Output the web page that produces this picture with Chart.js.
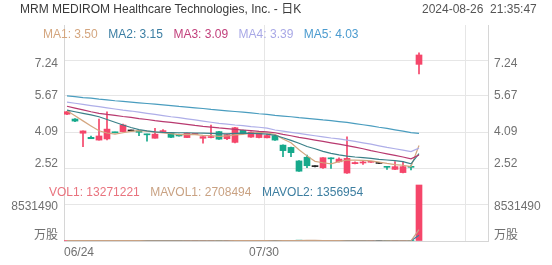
<!DOCTYPE html>
<html><head><meta charset="utf-8">
<script src="https://cdn.jsdelivr.net/npm/chart.js@4.4.1/dist/chart.umd.min.js"></script>
<style>
html,body{margin:0;padding:0;background:#fff;}
#wrap{position:relative;width:552px;height:265px;overflow:hidden;font-family:"Liberation Sans",Arial,"Noto Sans CJK SC",sans-serif;}
canvas{position:absolute;left:0;}
#c1{top:0;}
#c2{top:178px;}
.t{position:absolute;font-size:12px;line-height:12px;white-space:nowrap;}
.t span{margin-right:10.5px;}
</style></head><body>
<div id="wrap">
<canvas id="c1" width="552" height="178"></canvas>
<canvas id="c2" width="552" height="87"></canvas>
<div class="t" id="title" style="left:20px;top:3px;color:#3a3a3a"></div>
<div class="t" id="time" style="left:422px;top:3px;color:#555"></div>
<div class="t" id="maLegend" style="left:43px;top:28px"></div>
<div class="t" id="volLegend" style="left:49px;top:186px"></div>
</div>
<script>
const titleText = 'MRM MEDIROM Healthcare Technologies, Inc. - 日K';
const timeText = '2024-08-26\u00a0\u00a021:35:47';

const dates = ['06/24','06/25','06/26','06/27','06/28','07/01','07/02','07/03','07/05','07/08','07/09','07/10','07/11','07/12','07/15','07/16','07/17','07/18','07/19','07/22','07/23','07/24','07/25','07/26','07/29','07/30','07/31','08/01','08/02','08/05','08/06','08/07','08/08','08/09','08/12','08/13','08/14','08/15','08/16','08/19','08/20','08/21','08/22','08/23','08/26'];

const opens  = [4.87,4.66,4.04,3.86,3.74,3.79,4.08,4.11,4.14,4.14,4.00,3.82,4.11,4.05,3.99,3.85,3.99,3.82,3.85,4.11,3.80,3.64,4.17,3.87,3.85,3.84,3.93,3.52,3.42,2.83,2.99,2.58,2.53,2.96,2.79,2.30,2.71,2.74,2.77,2.72,2.57,2.46,2.32,2.57,7.05];
const closes = [4.98,4.57,4.14,3.80,3.92,4.22,4.06,4.40,4.14,4.08,3.97,4.00,4.15,3.86,3.92,4.04,4.01,3.89,3.89,3.78,3.98,4.28,4.05,4.09,4.03,3.94,3.74,3.28,3.19,2.38,2.62,2.58,2.97,2.92,2.91,2.94,2.76,2.77,2.80,2.72,2.55,2.58,2.58,2.55,7.46];
const highs  = [5.00,4.68,4.14,3.92,4.66,4.98,4.09,4.44,4.15,4.14,4.00,4.25,4.20,4.06,4.00,4.05,4.02,3.89,4.40,4.12,4.00,4.30,4.18,4.10,4.05,4.00,3.94,3.53,3.43,2.84,3.09,2.59,2.98,2.96,2.96,3.88,2.79,2.83,2.81,2.73,2.57,2.80,2.80,2.63,7.55];
const lows   = [4.85,4.55,3.45,3.80,3.74,3.75,4.05,4.10,4.13,3.93,3.69,3.82,4.10,3.85,3.91,3.85,3.98,3.60,3.84,3.77,3.76,3.62,4.04,3.86,3.84,3.83,3.73,3.01,3.01,2.37,2.53,2.57,2.50,2.50,2.77,2.28,2.70,2.68,2.76,2.71,2.46,2.45,2.30,2.44,6.63];

const ma1 = [5.02,4.80,4.58,4.36,4.15,4.05,4.00,4.06,4.12,4.15,4.13,4.09,4.05,4.02,3.98,3.99,3.98,3.95,3.94,3.90,3.92,3.97,3.99,4.04,4.08,4.05,3.99,3.79,3.62,3.32,3.05,2.81,2.75,2.70,2.80,2.87,2.86,2.85,2.83,2.78,2.72,2.67,2.64,2.58,3.50];
const ma2 = [5.05,4.98,4.91,4.84,4.76,4.64,4.52,4.40,4.29,4.20,4.14,4.10,4.08,4.07,4.06,4.06,4.05,4.04,4.03,4.02,4.01,4.03,4.04,4.03,4.02,4.00,3.95,3.84,3.73,3.60,3.46,3.36,3.25,3.16,3.09,3.04,3.00,2.97,2.94,2.90,2.87,2.84,2.80,2.70,3.15];
const ma3 = [5.22,5.14,5.06,4.98,4.91,4.86,4.82,4.77,4.73,4.68,4.64,4.59,4.55,4.51,4.47,4.43,4.38,4.34,4.31,4.27,4.24,4.21,4.18,4.15,4.12,4.10,4.06,3.99,3.93,3.86,3.80,3.74,3.68,3.62,3.56,3.50,3.43,3.36,3.28,3.21,3.14,3.07,3.00,2.92,3.09];
const ma4 = [5.40,5.35,5.30,5.25,5.20,5.15,5.10,5.05,5.01,4.96,4.91,4.86,4.81,4.76,4.72,4.67,4.62,4.57,4.52,4.47,4.44,4.40,4.37,4.33,4.30,4.26,4.18,4.13,4.08,4.03,3.98,3.93,3.88,3.83,3.79,3.74,3.68,3.62,3.56,3.49,3.42,3.36,3.30,3.24,3.39];
const ma5 = [5.67,5.64,5.60,5.57,5.53,5.50,5.46,5.43,5.40,5.37,5.34,5.31,5.28,5.25,5.21,5.18,5.15,5.12,5.08,5.05,5.02,4.99,4.96,4.93,4.89,4.86,4.82,4.79,4.76,4.72,4.69,4.66,4.62,4.59,4.55,4.51,4.46,4.41,4.36,4.30,4.25,4.19,4.13,4.07,4.03];

const vols = [98000,76000,142000,64000,118000,156000,42000,88000,31000,47000,69000,83000,44000,58000,36000,52000,29000,61000,73000,81000,49000,137000,57000,53000,41000,48000,66000,162000,118000,205000,127000,38000,104000,72000,59000,8000,4000,6000,3000,6000,52000,71000,98000,50000,13271221];
const mavol1 = [98000,87000,105000,95000,100000,111000,104000,94000,87000,73000,55000,64000,55000,60000,58000,55000,44000,47000,50000,59000,59000,80000,79000,75000,67000,67000,53000,74000,87000,120000,136000,130000,118000,109000,80000,56000,49000,30000,16000,5000,14000,28000,46000,55000,2708494];
const mavol2 = [98000,87000,105000,95000,100000,106000,95000,94000,87000,86000,83000,84000,73000,70000,66000,55000,53000,50000,54000,57000,57000,62000,62000,62000,63000,67000,67000,77000,81000,94000,101000,91000,96000,98000,94000,90000,83000,68000,56000,42000,35000,38000,45000,32000,1356954];

const priceTicks = [2.52, 4.09, 5.67, 7.24];
const volTicks = [0, 8531490];
const volTickLabels = ['万股', '8531490'];
const xTickValues = [-0.375, 24.625, 49.75];
const xTickLabels = [dates[0], dates[25], ''];

const maNames = ['MA1','MA2','MA3','MA4','MA5'];
const maSeries = [ma1, ma2, ma3, ma4, ma5];
const maColors = ['#d4a67f','#3b7ea3','#c2407c','#a8a8e6','#4b9bcf'];
const maLineColors = ['#d4a67f','#3a8088','#b8396f','#aeaee8','#4a9dbf'];
const volNames = ['VOL1','MAVOL1','MAVOL2'];
const volColors = ['#e9737e','#c9a283','#3d7ea0'];

const UP = '#f5466a', DOWN = '#16a98b', FLAT = '#222';

document.getElementById('title').textContent = titleText;
document.getElementById('time').textContent = timeText;
document.getElementById('maLegend').innerHTML = maNames.map((n,k)=>
  '<span style="color:'+maColors[k]+'">'+n+': '+maSeries[k][maSeries[k].length-1].toFixed(2)+'</span>').join('');
const volLast = [vols[vols.length-1], mavol1[mavol1.length-1], mavol2[mavol2.length-1]];
document.getElementById('volLegend').innerHTML = volNames.map((n,k)=>
  '<span style="color:'+volColors[k]+'">'+n+': '+volLast[k]+'</span>').join('');

const candleColors = dates.map((d,i)=> closes[i]>opens[i] ? UP : (closes[i]<opens[i] ? DOWN : FLAT));

Chart.defaults.font.family = '"Liberation Sans", Arial, "Noto Sans CJK SC", sans-serif';
Chart.defaults.font.size = 12;

const GRID = '#e6e6e6', BORDER = '#d6d6d6', LABEL = '#707070';

function nudgePlugin(map) {
  return {
    id: 'nudge',
    beforeDraw(chart) {
      for (const id in map) {
        const s = chart.scales[id];
        const items = s.getLabelItems(chart.chartArea);
        if (items._n) continue;
        items.forEach((it,i)=>{ it.options.translation[1] += (map[id][i]||0); });
        items._n = true;
      }
    }
  };
}

const lineDs = (data, color, axis) => ({
  type: 'line', data: data.map((v,i)=>({x:i, y:v})), borderColor: color, borderWidth: 1.2,
  pointRadius: 0, fill: false, tension: 0, yAxisID: axis, order: 0
});

const yTicksCommon = {color: LABEL, padding: 6, font: {size: 12}};
const noPad = s => { s.paddingTop = 0; s.paddingBottom = 0; s.paddingLeft = 0; s.paddingRight = 0; };

function xScale(showLabels) {
  return {
    type: 'linear', min: -0.375, max: 52.625, offset: false,
    afterBuildTicks: s => { s.ticks = xTickValues.map(v=>({value:v})); },
    ticks: {display: showLabels, callback: (v,i)=> xTickLabels[i], align: 'inner', color: LABEL, padding: 4, maxRotation: 0, autoSkip: false},
    grid: {color: GRID, drawTicks: false, offset: false},
    border: showLabels ? {color: BORDER} : {display: false},
    afterFit: s => { s.height = showLabels ? 24 : 0; noPad(s); }
  };
}

function yScale(pos, min, max, ticks, labelFn, grid) {
  return {
    position: pos, min: min, max: max, offset: false,
    afterBuildTicks: s => { s.ticks = ticks.map(v=>({value:v})); },
    ticks: Object.assign({callback: labelFn}, yTicksCommon),
    grid: grid ? {color: GRID, drawTicks: false} : {display: false, drawTicks: false},
    border: {color: BORDER},
    afterFit: s => { s.width = 64; noPad(s); }
  };
}

const PMIN = 2.083, PMAX = 8.770;
const VMAX = 14930000;

new Chart(document.getElementById('c1'), {
  type: 'bar',
  data: {
    datasets: [
      lineDs(ma5, maLineColors[4], 'y'),
      lineDs(ma4, maLineColors[3], 'y'),
      lineDs(ma3, maLineColors[2], 'y'),
      lineDs(ma2, maLineColors[1], 'y'),
      lineDs(ma1, maLineColors[0], 'y'),
      {type:'bar', data: dates.map((d,i)=>({x:i, y:[lows[i], highs[i]]})), backgroundColor: candleColors,
        barThickness: 1, grouped: false, minBarLength: 1, yAxisID: 'y', order: 2},
      {type:'bar', data: dates.map((d,i)=>({x:i, y:[opens[i], closes[i]]})), backgroundColor: candleColors,
        barThickness: 6, grouped: false, minBarLength: 1, yAxisID: 'y', order: 1}
    ]
  },
  options: {
    responsive: false, animation: false, events: [],
    layout: {padding: {top: 25, left: 0, right: 0, bottom: 0}},
    plugins: {legend: {display: false}, tooltip: {enabled: false}},
    scales: {
      x: xScale(false),
      y: yScale('left', PMIN, PMAX, priceTicks, v => v.toFixed(2), true),
      yR: yScale('right', PMIN, PMAX, priceTicks, v => v.toFixed(2), false)
    }
  },
  plugins: [nudgePlugin({y: [-4,0,0,4], yR: [-4,0,0,4]})]
});

new Chart(document.getElementById('c2'), {
  type: 'bar',
  data: {
    datasets: [
      {type:'bar', data: vols.map((v,i)=>({x:i, y:v})), backgroundColor: candleColors,
        barThickness: 6, grouped: false, yAxisID: 'v', order: 3},
      lineDs(mavol1, volColors[1], 'v'),
      lineDs(mavol2, volColors[2], 'v')
    ]
  },
  options: {
    responsive: false, animation: false, events: [],
    layout: {padding: {top: 0, left: 0, right: 0, bottom: 0}},
    plugins: {legend: {display: false}, tooltip: {enabled: false}},
    scales: {
      x: xScale(true),
      v: yScale('left', 0, VMAX, volTicks, (v,i) => volTickLabels[i], true),
      vR: yScale('right', 0, VMAX, volTicks, (v,i) => volTickLabels[i], false)
    }
  },
  plugins: [nudgePlugin({v: [-5,2], vR: [-5,2]})]
});
</script>
</body></html>
